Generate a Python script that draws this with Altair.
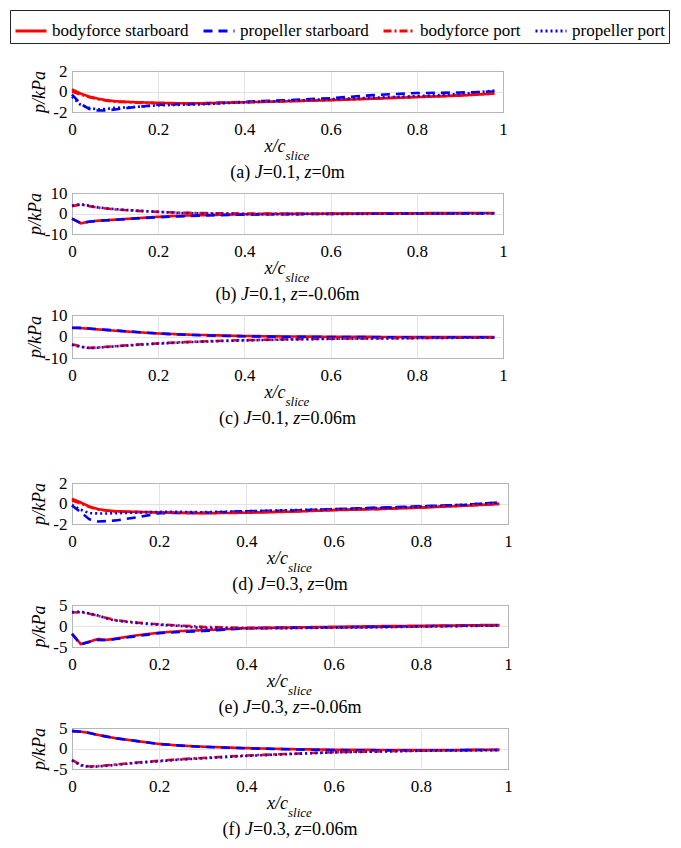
import altair as alt
import pandas as pd

FONT = "Liberation Serif"

# ---------------- data ----------------
X = [0, 0.02, 0.04, 0.06, 0.08, 0.1, 0.15, 0.2, 0.25, 0.3, 0.4, 0.5, 0.6, 0.7, 0.8, 0.9, 0.98]
X_TICKS = [0, 0.2, 0.4, 0.6, 0.8, 1]

SERIES = ["bodyforce starboard", "propeller starboard", "bodyforce port", "propeller port"]
SERIES_COLORS = ["#ff0000", "#0000ff", "#ff0000", "#0000ff"]
SERIES_DASHES = [[1, 0], [9, 6], [8, 3, 2, 3], [2, 3]]

PANELS = ["a", "b", "c", "d", "e", "f"]
PANEL_J = ["0.1", "0.1", "0.1", "0.3", "0.3", "0.3"]
PANEL_Z = ["0", "-0.06", "0.06", "0", "-0.06", "0.06"]
Y_TICKS = [[-2, 0, 2], [-10, 0, 10], [-10, 0, 10], [-2, 0, 2], [-5, 0, 5], [-5, 0, 5]]

# (a) J=0.1, z=0m
A_BF_STB = [0.2, -0.2, -0.5, -0.7, -0.85, -0.95, -1.05, -1.1, -1.15, -1.15, -1.05, -0.95, -0.85, -0.7, -0.55, -0.4, -0.2]
A_PR_STB = [-0.3, -1.2, -1.7, -1.85, -1.85, -1.75, -1.5, -1.3, -1.25, -1.2, -1.0, -0.85, -0.65, -0.35, -0.15, -0.1, 0.0]
A_BF_PORT = [0.0, -0.3, -0.55, -0.75, -0.9, -1.0, -1.1, -1.15, -1.15, -1.15, -1.05, -0.95, -0.82, -0.68, -0.52, -0.38, -0.2]
A_PR_PORT = [-0.5, -1.3, -1.6, -1.75, -1.7, -1.6, -1.5, -1.35, -1.3, -1.25, -1.05, -0.9, -0.75, -0.6, -0.45, -0.25, 0.1]

# (b) J=0.1, z=-0.06m
B_BF_STB = [-2.4, -4.8, -4.0, -3.5, -3.3, -3.0, -2.3, -1.6, -1.1, -0.8, -0.4, -0.2, -0.05, 0.05, 0.15, 0.2, 0.25]
B_PR_STB = [-2.6, -4.6, -4.0, -3.6, -3.3, -3.1, -2.4, -1.8, -1.4, -1.0, -0.5, -0.3, -0.2, -0.1, 0.0, 0.05, 0.1]
B_BF_PORT = [3.6, 4.4, 3.6, 2.9, 2.4, 2.0, 1.3, 0.8, 0.4, 0.2, 0.0, -0.1, -0.1, -0.05, 0.0, 0.1, 0.15]
B_PR_PORT = [3.8, 4.5, 3.8, 3.0, 2.5, 2.1, 1.4, 0.8, 0.3, 0.0, -0.3, -0.3, -0.25, -0.15, -0.05, 0.05, 0.1]

# (c) J=0.1, z=0.06m
C_BF_STB = [4.0, 3.9, 3.6, 3.3, 3.0, 2.7, 2.0, 1.4, 1.0, 0.7, 0.25, 0.0, -0.1, -0.2, -0.25, -0.3, -0.3]
C_PR_STB = [4.1, 4.0, 3.7, 3.4, 3.1, 2.8, 2.1, 1.4, 0.9, 0.55, 0.1, -0.15, -0.25, -0.3, -0.35, -0.35, -0.35]
C_BF_PORT = [-3.6, -4.7, -5.3, -5.1, -4.8, -4.5, -3.8, -3.2, -2.7, -2.3, -1.7, -1.3, -1.0, -0.85, -0.7, -0.55, -0.45]
C_PR_PORT = [-3.8, -4.8, -5.4, -5.2, -4.9, -4.6, -3.9, -3.3, -2.8, -2.4, -1.8, -1.4, -1.1, -0.9, -0.75, -0.6, -0.5]

# (d) J=0.3, z=0m
D_BF_STB = [0.45, 0.1, -0.3, -0.55, -0.68, -0.75, -0.82, -0.86, -0.92, -0.95, -0.9, -0.8, -0.65, -0.55, -0.4, -0.22, -0.05]
D_PR_STB = [-0.2, -0.85, -1.55, -1.75, -1.72, -1.65, -1.35, -0.95, -0.92, -0.9, -0.75, -0.7, -0.55, -0.4, -0.28, -0.12, 0.1]
D_BF_PORT = [0.3, 0.0, -0.35, -0.58, -0.7, -0.77, -0.83, -0.87, -0.9, -0.93, -0.88, -0.78, -0.63, -0.52, -0.38, -0.2, -0.03]
D_PR_PORT = [-0.15, -0.6, -0.95, -0.97, -0.97, -0.95, -0.88, -0.82, -0.82, -0.85, -0.75, -0.65, -0.55, -0.45, -0.3, -0.12, 0.1]

# (e) J=0.3, z=-0.06m
E_BF_STB = [-1.8, -4.3, -3.7, -3.1, -3.3, -3.0, -2.2, -1.6, -1.2, -1.0, -0.5, -0.35, -0.2, -0.05, 0.05, 0.15, 0.25]
E_PR_STB = [-1.9, -4.4, -3.8, -3.3, -3.4, -3.1, -2.4, -1.7, -1.4, -1.2, -0.55, -0.4, -0.3, -0.2, -0.05, 0.05, 0.15]
E_BF_PORT = [3.2, 3.3, 2.9, 2.4, 1.9, 1.4, 0.8, 0.4, 0.1, -0.2, -0.45, -0.45, -0.35, -0.25, -0.1, 0.05, 0.15]
E_PR_PORT = [3.3, 3.4, 3.0, 2.5, 1.8, 1.3, 0.7, 0.3, 0.0, -0.5, -0.55, -0.5, -0.4, -0.3, -0.15, 0.0, 0.1]

# (f) J=0.3, z=0.06m
F_BF_STB = [4.2, 4.1, 3.8, 3.3, 2.9, 2.5, 1.8, 1.1, 0.7, 0.45, 0.1, -0.15, -0.3, -0.35, -0.35, -0.35, -0.3]
F_PR_STB = [4.3, 4.1, 3.8, 3.3, 2.9, 2.5, 1.8, 1.1, 0.7, 0.4, 0.05, -0.2, -0.4, -0.45, -0.45, -0.4, -0.35]
F_BF_PORT = [-2.8, -4.0, -4.4, -4.3, -4.1, -3.9, -3.4, -3.0, -2.6, -2.3, -1.7, -1.3, -0.9, -0.7, -0.5, -0.4, -0.35]
F_PR_PORT = [-2.9, -4.1, -4.5, -4.4, -4.2, -4.0, -3.5, -3.1, -2.7, -2.4, -1.8, -1.35, -0.95, -0.75, -0.55, -0.45, -0.4]

VALUES = [
    [A_BF_STB, A_PR_STB, A_BF_PORT, A_PR_PORT],
    [B_BF_STB, B_PR_STB, B_BF_PORT, B_PR_PORT],
    [C_BF_STB, C_PR_STB, C_BF_PORT, C_PR_PORT],
    [D_BF_STB, D_PR_STB, D_BF_PORT, D_PR_PORT],
    [E_BF_STB, E_PR_STB, E_BF_PORT, E_PR_PORT],
    [F_BF_STB, F_PR_STB, F_BF_PORT, F_PR_PORT],
]

rows = []
for pid, series_vals in zip(PANELS, VALUES):
    for s, vals in zip(SERIES, series_vals):
        for x, p in zip(X, vals):
            rows.append({"panel": pid, "series": s, "x": x, "p": p})
df = pd.DataFrame(rows)
ONE = pd.DataFrame({"k": [0]})

# ---------------- layout / style ----------------
PANEL_W = [431, 431, 431, 436, 436, 436]
PANEL_H = [41, 41, 43, 41, 42, 41]
TITLE_PAD = [4, 0, 0, 4, 4, 4]
SPACER_H = 42
GAP = 0

ROMAN_W = {"(": 0.333, ")": 0.333, "a": 0.444, "b": 0.5, "c": 0.444, "d": 0.5, "e": 0.444,
           "f": 0.333, " ": 0.25, "=": 0.564, ".": 0.25, ",": 0.25, "-": 0.333, "m": 0.778}
ITALIC_W = {"J": 0.444, "z": 0.389}


def text_width(s, italic, size=18):
    table = ITALIC_W if italic else ROMAN_W
    return sum(table.get(ch, 0.5) for ch in s) * size


def text_layer(s, x, y, size, italic=False, align="left"):
    return alt.Chart(ONE).mark_text(
        text=s, font=FONT, fontSize=size, fontStyle="italic" if italic else "normal",
        fontWeight="normal", align=align, baseline="alphabetic", color="#000000"
    ).encode(x=alt.value(x), y=alt.value(y))


LEGEND = alt.Legend(
    orient="none", legendX=-62, legendY=-61, direction="horizontal", columns=4,
    title=None, symbolType="stroke", symbolSize=31 * 31, symbolStrokeWidth=3,
    labelFont=FONT, labelFontSize=17, labelColor="#000000", labelOffset=4,
    columnPadding=8, padding=4, strokeColor="#262626", labelLimit=400,
)


def make_panel(i):
    pid = PANELS[i]
    w, h, yt = PANEL_W[i], PANEL_H[i], Y_TICKS[i]
    sub = df[df["panel"] == pid]
    x_enc = alt.X("x:Q", scale=alt.Scale(domain=[0, 1], nice=False, zero=False),
                  axis=alt.Axis(values=X_TICKS, labelExpr="'' + datum.value", labelFlush=False,
                                labelPadding=9, title=None, labelFont=FONT, labelFontSize=17,
                                labelColor="#000000", grid=True, gridColor="#dcdcdc",
                                gridWidth=0.8, domain=False, ticks=False, tickSize=0))
    y_enc = alt.Y("p:Q", scale=alt.Scale(domain=[yt[0], yt[-1]], nice=False, zero=False),
                  axis=alt.Axis(values=yt, labelExpr="'' + datum.value", labelPadding=5,
                                labelFont=FONT, labelFontSize=17, labelColor="#000000",
                                title="p/kPa", titlePadding=TITLE_PAD[i], titleFont=FONT,
                                titleFontSize=18, titleFontStyle="italic", titleFontWeight="normal",
                                titleColor="#000000", grid=True, gridColor="#dcdcdc",
                                gridWidth=0.8, domain=False, ticks=False, tickSize=0))
    color = alt.Color("series:N", scale=alt.Scale(domain=SERIES, range=SERIES_COLORS), legend=LEGEND)
    dash = alt.StrokeDash("series:N", scale=alt.Scale(domain=SERIES, range=SERIES_DASHES), legend=LEGEND)
    layers = []
    for s in SERIES:
        layers.append(
            alt.Chart(sub).transform_filter(alt.datum.series == s)
            .mark_line(strokeWidth=2.6)
            .encode(x=x_enc, y=y_enc, color=color, strokeDash=dash)
        )
    cx = w / 2
    layers.append(text_layer("x/c", cx - 2, h + 40, 18, True, "right"))
    layers.append(text_layer("slice", cx - 2, h + 48, 13, True, "left"))
    pieces = [(f"({pid}) ", False), ("J", True), (f"={PANEL_J[i]}, ", False),
              ("z", True), (f"={PANEL_Z[i]}m", False)]
    total = sum(text_width(t, it) for t, it in pieces)
    x0 = cx - total / 2
    for t, it in pieces:
        layers.append(text_layer(t, x0, h + 66, 18, it, "left"))
        x0 += text_width(t, it)
    return alt.layer(*layers).properties(width=w, height=h)


panels = [make_panel(i) for i in range(6)]

spacer = alt.Chart(ONE).mark_rule(opacity=0).encode(
    x=alt.value(0), y=alt.value(0), y2=alt.value(SPACER_H)
).properties(width=1, height=SPACER_H, view=alt.ViewBackground(stroke="transparent"))

chart = (
    alt.vconcat(panels[0], panels[1], panels[2], spacer, panels[3], panels[4], panels[5], spacing=GAP)
    .resolve_scale(x="independent", y="independent", color="shared", strokeDash="shared")
    .properties(padding=1)
    .configure(
        font=FONT,
        style={"guide-label": {"font": FONT}, "guide-title": {"font": FONT, "fontWeight": "normal"}},
    )
    .configure_view(stroke="#262626", strokeWidth=1)
    .configure_axis(labelFont=FONT, titleFont=FONT, titleFontWeight="normal")
)

chart.save("out.html", embed_options={"renderer": "svg", "actions": False})
